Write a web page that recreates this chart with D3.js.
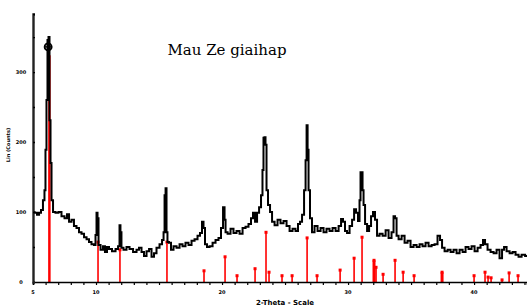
<!DOCTYPE html>
<html>
<head>
<meta charset="utf-8">
<script src="https://cdn.jsdelivr.net/npm/d3@7"></script>
<style>
  body { margin: 0; background: #fff; }
  svg { display: block; }
</style>
</head>
<body>
<svg id="chart" width="527" height="307"></svg>
<script>
"use strict";

// measured pattern (2-theta in degrees, intensity in counts)
const twoTheta = [5.00,5.24,5.40,5.56,5.71,5.87,5.95,6.03,6.11,6.19,6.27,6.35,6.43,6.51,6.67,6.90,7.14,7.38,7.62,7.78,
  7.94,8.17,8.33,8.57,8.73,8.97,9.13,9.37,9.52,9.76,9.92,10.00,10.08,10.16,10.24,10.48,10.63,10.79,10.95,11.11,
  11.43,11.67,11.83,11.90,11.98,12.06,12.30,12.54,12.78,13.10,13.33,13.49,13.73,13.89,14.13,14.29,14.52,14.68,14.92,15.16,
  15.32,15.40,15.48,15.56,15.63,15.71,15.87,16.03,16.27,16.51,16.75,16.98,17.22,17.46,17.70,17.94,18.17,18.33,18.49,18.57,
  18.73,18.89,19.13,19.37,19.60,19.84,20.00,20.16,20.24,20.32,20.56,20.79,21.03,21.27,21.51,21.75,21.98,22.22,22.38,22.54,
  22.70,22.86,23.02,23.17,23.25,23.33,23.41,23.49,23.57,23.73,23.89,24.05,24.29,24.52,24.76,25.00,25.24,25.48,25.71,25.95,
  26.11,26.27,26.43,26.59,26.67,26.75,26.83,26.90,27.06,27.22,27.46,27.70,27.94,28.17,28.41,28.65,28.89,29.13,29.37,29.52,
  29.68,29.84,30.00,30.24,30.40,30.56,30.71,30.87,30.95,31.03,31.11,31.19,31.27,31.43,31.59,31.75,31.90,32.06,32.22,32.38,
  32.62,32.86,33.10,33.33,33.57,33.65,33.81,33.89,34.13,34.37,34.60,34.84,35.08,35.32,35.56,35.79,36.03,36.27,36.51,36.75,
  36.98,37.22,37.38,37.54,37.78,38.02,38.25,38.49,38.73,38.97,39.21,39.44,39.68,39.92,40.16,40.40,40.63,40.79,40.95,41.19,
  41.43,41.67,41.90,42.14,42.30,42.46,42.70,42.94,43.17,43.41,43.65,43.89,44.21];
const counts = [100,99,96,99,103,117,131,189,260,346,350,231,170,117,100,99,100,94,91,97,
  86,89,80,77,71,69,64,61,57,54,53,67,99,91,53,46,51,43,50,47,
  44,47,51,81,71,49,46,50,47,43,46,49,43,37,44,47,36,41,49,54,
  60,71,124,134,71,57,56,46,51,49,54,51,56,53,59,61,66,70,86,77,
  54,50,51,56,60,63,77,107,89,71,69,76,70,73,69,77,79,83,91,99,
  86,99,107,124,160,206,207,196,131,110,100,86,81,89,84,87,80,73,76,73,
  83,86,96,131,174,224,189,131,91,71,80,73,77,71,76,73,77,73,80,90,
  86,73,70,80,89,104,99,87,117,157,157,131,110,83,73,80,94,100,89,66,
  69,66,74,63,71,94,91,66,61,66,56,59,50,53,50,54,51,56,51,53,
  54,66,60,49,44,46,43,46,41,46,43,50,47,51,44,49,53,60,54,46,
  43,41,46,34,46,50,44,41,43,39,36,39,37];

// reference card lines (zeolite X)
const refPos = [6.30,10.16,11.90,15.63,18.57,20.24,21.19,22.62,23.49,23.73,24.76,25.56,26.75,27.54,29.37,30.48,31.11,
  32.06,32.22,32.78,33.73,34.37,35.24,37.46,40.00,40.87,41.11,41.35,42.22,42.78,43.49];
const refInt = [324,57,46,57,16,36,9,19,71,14,9,9,63,9,17,34,64,
  31,21,11,31,14,9,14,9,14,7,6,3,13,9];
const refWide = [37.46, 32.06];

const xLabels = [5, 10, 20, 30, 40];
const yLabels = [0, 100, 200, 300];

const svg = d3.select("#chart");
const x = d3.scaleLinear().domain([5, 44.2]).range([33, 527]);
const y = d3.scaleLinear().domain([0, 383]).range([282, 14]);

// reference sticks
const sticks = svg.append("g");
sticks.selectAll("line")
    .data(d3.zip(refPos, refInt))
    .enter().append("line")
        .attr("x1", d => x(d[0]))
        .attr("x2", d => x(d[0]))
        .attr("y1", y(0))
        .attr("y2", d => y(d[1]))
        .style("stroke", "#ff0000")
        .style("stroke-width", (d, i) => i === 0 ? 2.5 : (refWide.includes(d[0]) ? 3 : 1.6));
sticks.selectAll("rect")
    .data(d3.zip(refPos, refInt).slice(1))
    .enter().append("rect")
        .attr("x", d => x(d[0]) - 1.5)
        .attr("y", d => y(d[1]) - 1.5)
        .attr("width", 3)
        .attr("height", 3)
        .style("fill", "#ff0000");

// pattern
const line = d3.line()
    .x((d, i) => x(twoTheta[i]))
    .y(d => y(d))
    .curve(d3.curveStep);
svg.append("path")
    .datum(counts)
    .attr("d", line)
    .style("fill", "none")
    .style("stroke", "#000")
    .style("stroke-width", 2);

// phase marker at top of the main line
const mk = svg.append("g")
    .attr("transform", `translate(${x(6.2)},${y(336)})`);
mk.append("circle").attr("r", 3.5)
    .style("fill", "none").style("stroke", "#000").style("stroke-width", 1.8);
mk.append("line").attr("x1", -4).attr("x2", 4).attr("y1", 0).attr("y2", 0)
    .style("stroke", "#000").style("stroke-width", 1.4);
mk.append("line").attr("x1", 1).attr("x2", 1).attr("y1", -10).attr("y2", 3)
    .style("stroke", "#000").style("stroke-width", 1.4);

// axes
const xAxis = svg.append("g").attr("transform", `translate(0,${y(0)})`)
    .call(d3.axisBottom(x).tickValues(d3.range(5, 45, 1)).tickSize(3).tickFormat(""));
xAxis.select(".domain").style("stroke-width", 1.6);
xAxis.selectAll(".tick line").style("stroke-width", 1.2);
xAxis.selectAll(".lbl")
    .data(xLabels)
    .enter().append("text")
        .attr("class", "lbl")
        .attr("x", d => x(d))
        .attr("y", 12)
        .attr("text-anchor", "middle")
        .style("fill", "#000")
        .style("font", "bold 5px 'DejaVu Sans'")
        .text(d => d);

const yAxis = svg.append("g").attr("transform", `translate(${x(5)},0)`)
    .call(d3.axisRight(y).tickValues([50, 100, 150, 200, 250, 300, 350, 383]).tickSize(2).tickFormat(""));
yAxis.select(".domain").style("stroke-width", 2.4).style("stroke", "#222");
yAxis.selectAll(".tick line").style("stroke-width", 1.4);
yAxis.selectAll(".lbl")
    .data(yLabels)
    .enter().append("text")
        .attr("class", "lbl")
        .attr("x", -12)
        .attr("y", d => y(d) + 2)
        .attr("text-anchor", "middle")
        .style("fill", "#000")
        .style("font", "bold 5px 'DejaVu Sans'")
        .text(d => d);

// titles
svg.append("text")
    .attr("x", 227).attr("y", 55)
    .attr("text-anchor", "middle")
    .style("font", "15px 'DejaVu Serif'")
    .text("Mau Ze giaihap");
svg.append("text")
    .attr("x", 285).attr("y", 305)
    .attr("text-anchor", "middle")
    .style("font", "bold 7px 'DejaVu Sans'")
    .text("2-Theta - Scale");
svg.append("text")
    .attr("transform", "translate(10,145) rotate(-90)")
    .attr("text-anchor", "middle")
    .style("font", "bold 5px 'DejaVu Sans'")
    .text("Lin (Counts)");
</script>
</body>
</html>
